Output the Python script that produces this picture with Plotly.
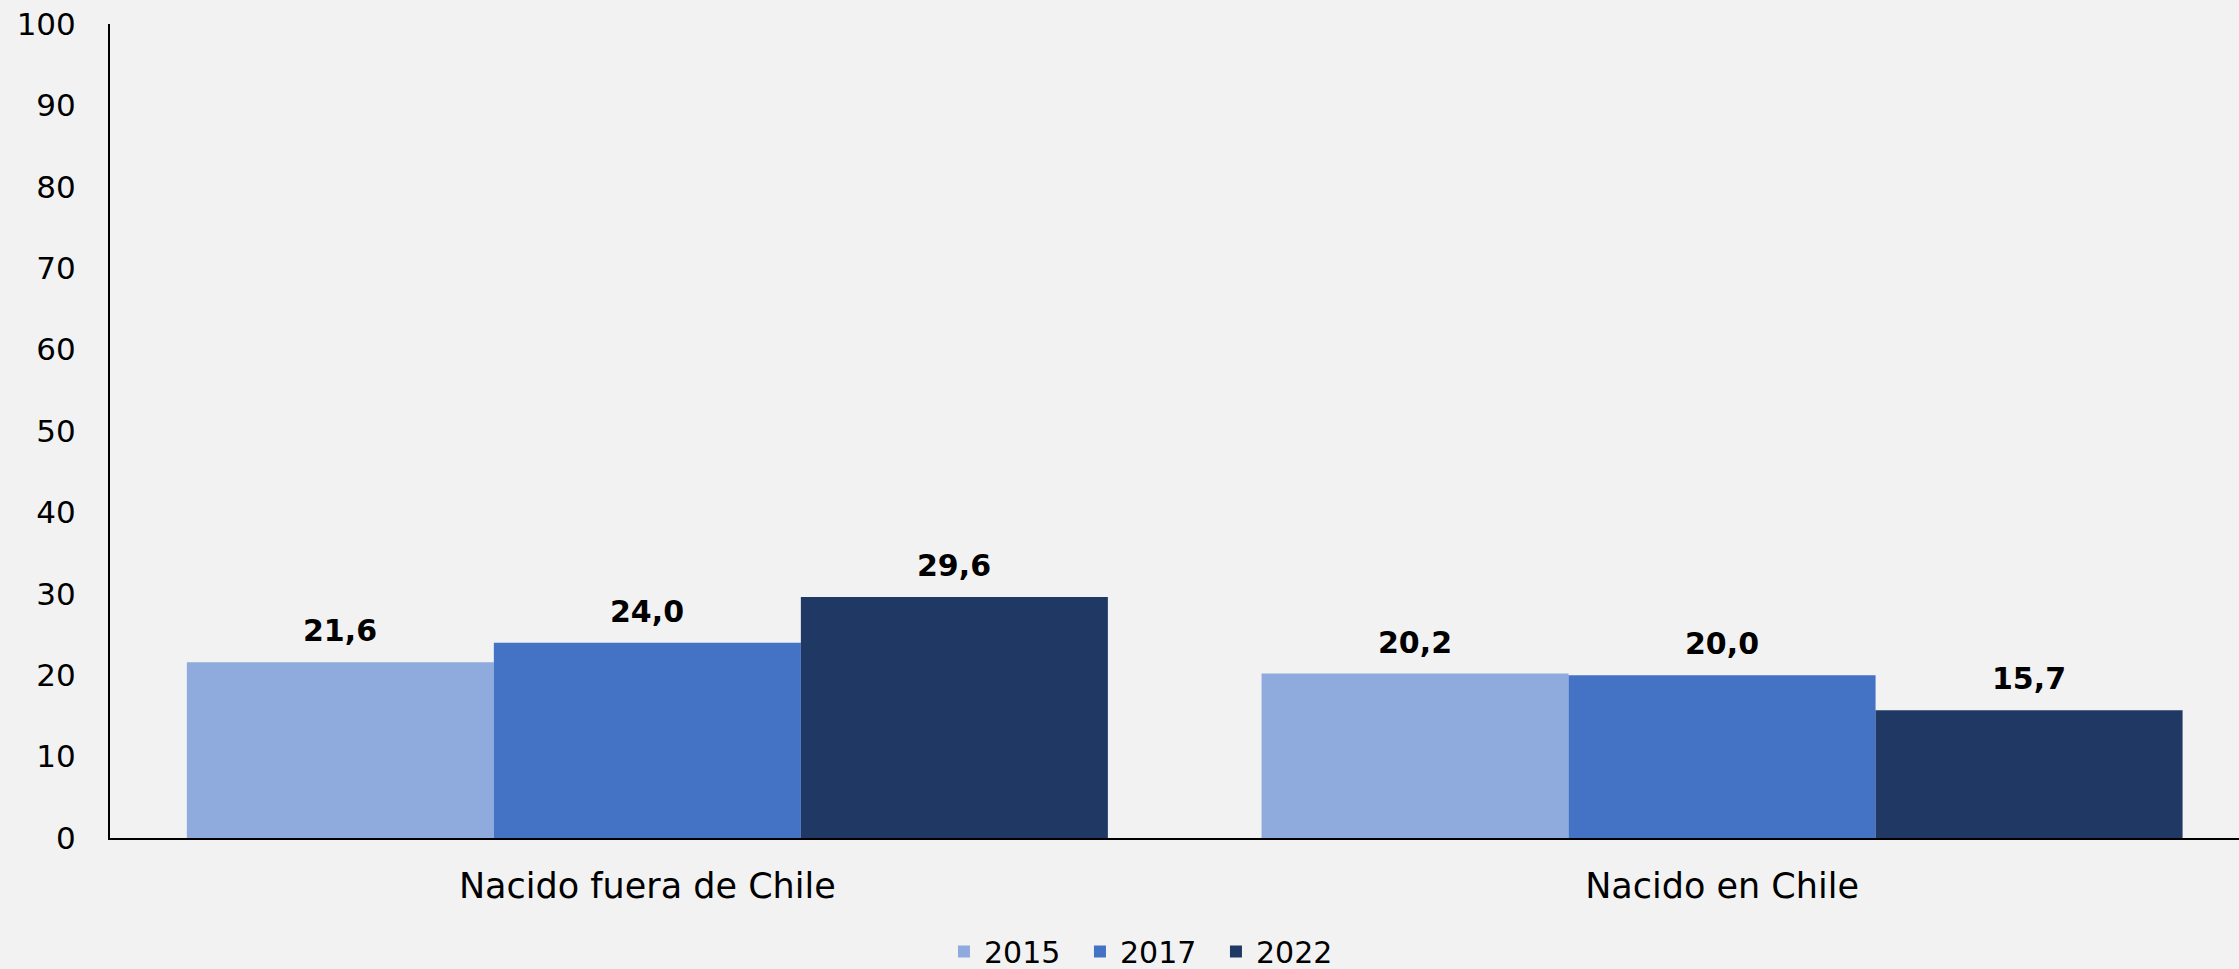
import plotly.graph_objects as go

categories = ["Nacido fuera de Chile", "Nacido en Chile"]
years = ["2015", "2017", "2022"]
values_2015 = [21.6, 20.2]
values_2017 = [24.0, 20.0]
values_2022 = [29.6, 15.7]
colors = ["#8FAADC", "#4472C4", "#203864"]
y_ticks = [0, 10, 20, 30, 40, 50, 60, 70, 80, 90, 100]

series = [values_2015, values_2017, values_2022]
FONT = "DejaVu Sans"
bargap = 0.143
bw = (1 - bargap) / 3

fig = go.Figure()
for name, vals, col in zip(years, series, colors):
    fig.add_trace(go.Bar(
        x=categories, y=vals, name=name,
        marker=dict(color=col, line=dict(width=0)),
    ))

annotations = []
for k, vals in enumerate(series):
    for i, v in enumerate(vals):
        annotations.append(dict(
            x=i + (k - 1) * bw, y=v, xref="x", yref="y",
            text="<b>" + f"{v:.1f}".replace(".", ",") + "</b>",
            showarrow=False, yanchor="bottom", yshift=12,
            font=dict(family=FONT, size=30, color="#000000"),
        ))

fig.update_layout(
    width=2239, height=969,
    paper_bgcolor="#F2F2F2", plot_bgcolor="#F2F2F2",
    margin=dict(l=110, r=0, t=24, b=131),
    barmode="group", bargap=bargap, bargroupgap=0,
    font=dict(family=FONT, size=29, color="#000000"),
    showlegend=True,
    legend=dict(orientation="h", xref="container", yref="container",
                x=0.4216, xanchor="left", y=0.018, yanchor="middle",
                font=dict(family=FONT, size=30, color="#000000"),
                itemwidth=30, entrywidth=91, entrywidthmode="pixels",
                traceorder="normal", bgcolor="rgba(0,0,0,0)"),
    annotations=annotations,
)
fig.update_xaxes(
    type="category", range=[-0.5, 1.481],
    showline=True, linecolor="#000000", linewidth=2,
    showgrid=False, ticks="", ticklabelstandoff=16,
    tickfont=dict(family=FONT, size=35, color="#000000"),
)
fig.update_yaxes(
    range=[0, 100], tickvals=y_ticks, ticktext=[str(t) for t in y_ticks],
    showline=True, linecolor="#000000", linewidth=2,
    showgrid=False, zeroline=False, ticks="", ticklabelstandoff=26,
    tickfont=dict(family=FONT, size=31, color="#000000"),
)

fig.write_html("out.html", config={"displayModeBar": False},
               post_script="document.body.style.margin='0';document.body.style.padding='0';")
